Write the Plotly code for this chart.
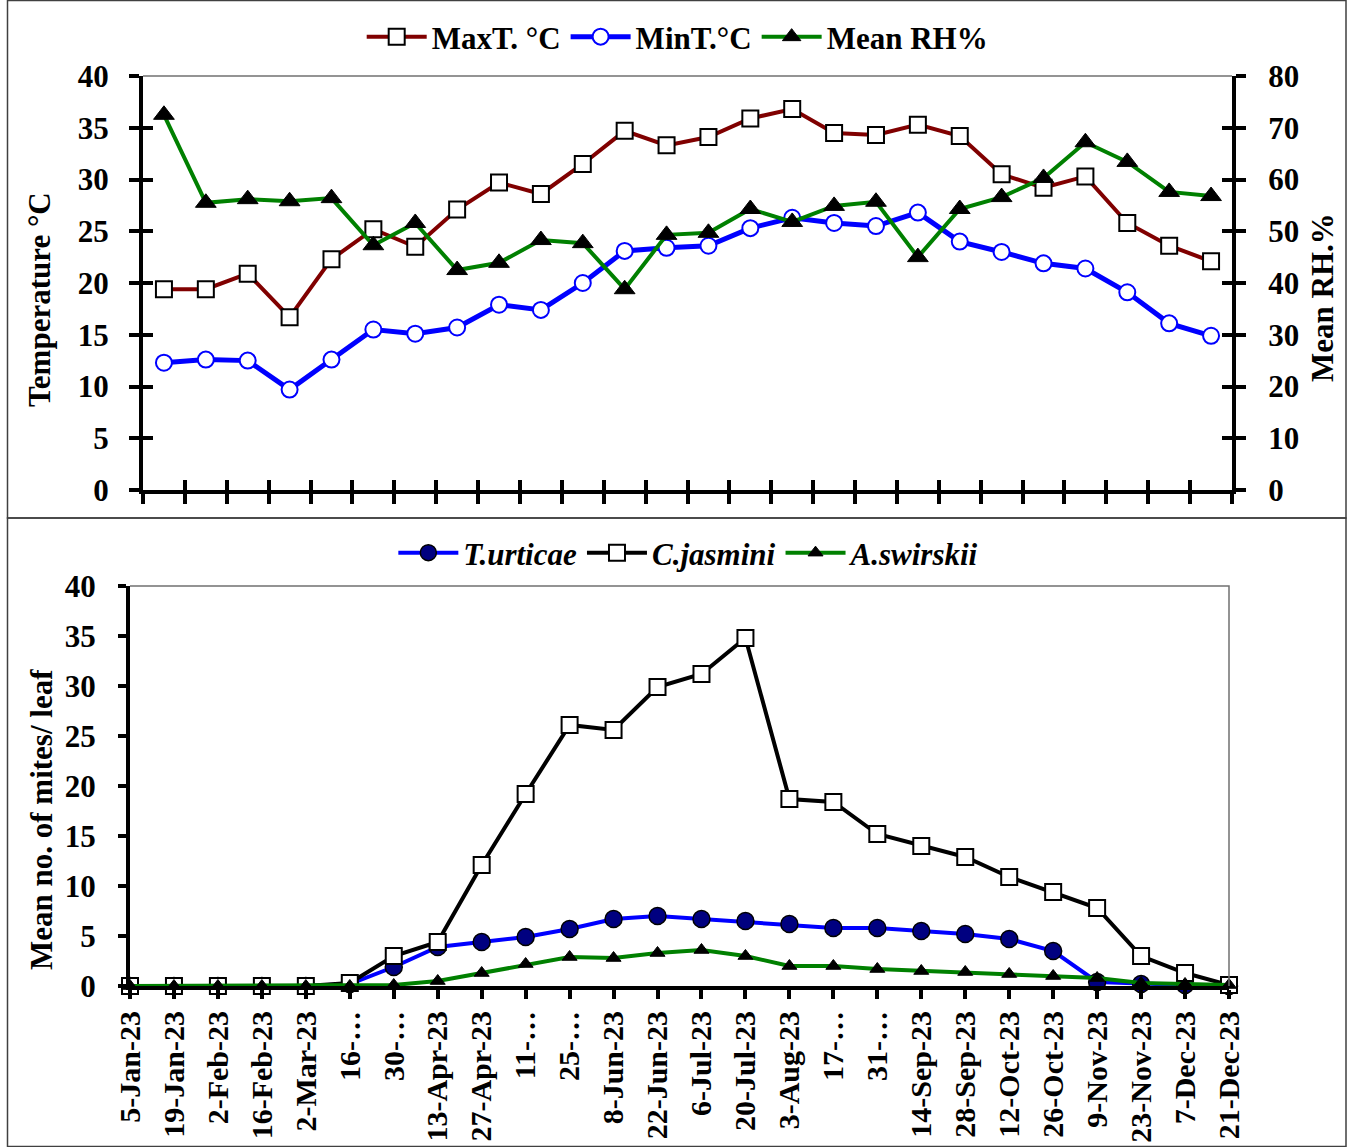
import plotly.graph_objects as go

dates = ["5-Jan-23", "19-Jan-23", "2-Feb-23", "16-Feb-23", "2-Mar-23", "16-…", "30-…",
         "13-Apr-23", "27-Apr-23", "11-…", "25-…", "8-Jun-23", "22-Jun-23", "6-Jul-23",
         "20-Jul-23", "3-Aug-23", "17-…", "31-…", "14-Sep-23", "28-Sep-23", "12-Oct-23",
         "26-Oct-23", "9-Nov-23", "23-Nov-23", "7-Dec-23", "21-Dec-23"]

max_t = [19.4, 19.4, 20.9, 16.7, 22.3, 25.2, 23.5, 27.1, 29.7, 28.6, 31.5, 34.7, 33.3, 34.1,
         35.9, 36.8, 34.5, 34.3, 35.3, 34.2, 30.5, 29.2, 30.3, 25.8, 23.6, 22.1]
min_t = [12.3, 12.6, 12.5, 9.7, 12.6, 15.5, 15.1, 15.7, 17.9, 17.4, 20.0, 23.1, 23.4, 23.6,
         25.3, 26.3, 25.8, 25.5, 26.8, 24.0, 23.0, 21.9, 21.4, 19.1, 16.1, 14.9]
mean_rh = [72.5, 55.5, 56.2, 55.8, 56.4, 47.3, 51.6, 42.5, 43.9, 48.3, 47.7, 38.8, 49.3, 49.7,
           54.3, 51.8, 54.9, 55.7, 45.0, 54.3, 56.6, 60.3, 67.2, 63.4, 57.6, 56.8]

t_urticae = [0, 0, 0, 0, 0, 0.2, 1.9, 3.9, 4.4, 4.9, 5.7, 6.7, 7.0, 6.7, 6.5, 6.2, 5.8, 5.8,
             5.5, 5.2, 4.7, 3.5, 0.4, 0.2, 0.1, 0]
c_jasmini = [0, 0, 0, 0, 0, 0.3, 3.0, 4.4, 12.1, 19.2, 26.1, 25.6, 29.9, 31.2, 34.8, 18.7,
             18.4, 15.2, 14.0, 12.9, 10.9, 9.4, 7.8, 3.0, 1.3, 0.1]
a_swirskii = [0, 0, 0, 0, 0, 0, 0.1, 0.5, 1.3, 2.2, 2.9, 2.8, 3.3, 3.6, 3.0, 2.0, 2.0, 1.7,
              1.5, 1.4, 1.2, 1.0, 0.8, 0.3, 0.2, 0.1]

W, H = 1349, 1147
FONT = "Liberation Serif"


def px(x):
    return x / W


def py(y):
    return 1 - y / H


fig = go.Figure()

# ---- top panel ----
fig.add_trace(go.Scatter(x=dates, y=max_t, name="MaxT. °C", mode="lines+markers",
                         line=dict(color="#800000", width=4),
                         marker=dict(symbol="square", size=16, color="white",
                                     line=dict(color="black", width=2)),
                         xaxis="x", yaxis="y", legend="legend", cliponaxis=False))
fig.add_trace(go.Scatter(x=dates, y=min_t, name="MinT.°C", mode="lines+markers",
                         line=dict(color="#0000FF", width=5),
                         marker=dict(symbol="circle", size=16, color="white",
                                     line=dict(color="#0000FF", width=2)),
                         xaxis="x", yaxis="y", legend="legend", cliponaxis=False))
fig.add_trace(go.Scatter(x=dates, y=mean_rh, name="Mean RH%", mode="lines+markers",
                         line=dict(color="#008000", width=4),
                         marker=dict(symbol="triangle-up", size=18, color="black",
                                     line=dict(color="black", width=1)),
                         xaxis="x", yaxis="y2", legend="legend", cliponaxis=False))
# dummy traces for inside-tick helper axes
fig.add_trace(go.Scatter(x=[], y=[], xaxis="x3", yaxis="y", showlegend=False))
fig.add_trace(go.Scatter(x=[], y=[], xaxis="x", yaxis="y3", showlegend=False))
fig.add_trace(go.Scatter(x=[], y=[], xaxis="x", yaxis="y4", showlegend=False))

# ---- bottom panel ----
fig.add_trace(go.Scatter(x=dates, y=t_urticae, name="T.urticae", mode="lines+markers",
                         line=dict(color="#0000FF", width=4),
                         marker=dict(symbol="circle", size=17, color="#000080",
                                     line=dict(color="black", width=1.5)),
                         xaxis="x2", yaxis="y5", legend="legend2", cliponaxis=False))
fig.add_trace(go.Scatter(x=dates, y=c_jasmini, name="C.jasmini", mode="lines+markers",
                         line=dict(color="black", width=4),
                         marker=dict(symbol="square", size=16, color="white",
                                     line=dict(color="black", width=2)),
                         xaxis="x2", yaxis="y5", legend="legend2", cliponaxis=False))
fig.add_trace(go.Scatter(x=dates, y=a_swirskii, name="A.swirskii", mode="lines+markers",
                         line=dict(color="#008000", width=4),
                         marker=dict(symbol="triangle-up", size=13, color="black",
                                     line=dict(color="black", width=1)),
                         xaxis="x2", yaxis="y5", legend="legend2", cliponaxis=False))

tickfont = dict(family=FONT, size=31, color="black", weight="bold")
xtickfont = dict(family=FONT, size=30, color="black", weight="bold")
top_dom_x = [px(143), px(1232)]
top_dom_y = [py(490), py(76)]
bot_dom_x = [px(130), px(1229)]
bot_dom_y = [py(986), py(586)]

common = dict(showgrid=False, zeroline=False, automargin=False)

fig.update_layout(
    width=W, height=H, autosize=False,
    margin=dict(l=0, r=0, t=0, b=0, pad=0, autoexpand=False),
    paper_bgcolor="white", plot_bgcolor="rgba(0,0,0,0)",
    font=dict(family=FONT, size=30, color="black", weight="bold"),
    xaxis=dict(domain=top_dom_x, anchor="y", type="category", range=[-0.5, 25.5],
               tickson="boundaries", ticks="outside", ticklen=10, tickwidth=3.5,
               tickcolor="black", showticklabels=False, showline=True, linecolor="black",
               linewidth=4, **common),
    xaxis3=dict(overlaying="x", anchor="y", type="linear", range=[-0.5, 25.5],
                tick0=-0.5, dtick=1, ticks="inside", ticklen=10, tickwidth=3.5,
                tickcolor="black", showticklabels=False, showline=False, **common),
    yaxis=dict(domain=top_dom_y, anchor="x", range=[0, 40], dtick=5, ticks="outside",
               ticklen=10, tickwidth=3.5, tickcolor="black", tickfont=tickfont,
               ticklabelstandoff=14, showline=True, linecolor="black", linewidth=4,
               **common),
    yaxis3=dict(overlaying="y", anchor="x", side="left", range=[0, 40], dtick=5,
                ticks="inside", ticklen=10, tickwidth=3.5, tickcolor="black",
                showticklabels=False, showline=False, **common),
    yaxis2=dict(overlaying="y", anchor="x", side="right", range=[0, 80], dtick=10,
                ticks="outside", ticklen=10, tickwidth=3.5, tickcolor="black",
                tickfont=tickfont, ticklabelstandoff=16, showline=True,
                linecolor="black", linewidth=4, **common),
    yaxis4=dict(overlaying="y", anchor="x", side="right", range=[0, 80], dtick=10,
                ticks="inside", ticklen=10, tickwidth=3.5, tickcolor="black",
                showticklabels=False, showline=False, **common),
    xaxis2=dict(domain=bot_dom_x, anchor="y5", type="category", range=[0, 25],
                ticks="outside", ticklen=9, tickwidth=3.5, tickcolor="black",
                tickangle=-90, tickfont=xtickfont, ticklabelstandoff=0, showline=True,
                linecolor="black", linewidth=4, **common),
    yaxis5=dict(domain=bot_dom_y, anchor="x2", range=[0, 40], dtick=5, ticks="outside",
                ticklen=8, tickwidth=3.5, tickcolor="black", tickfont=tickfont,
                ticklabelstandoff=16, showline=True, linecolor="black", linewidth=4,
                **common),
    legend=dict(orientation="h", x=0.502, xanchor="center", y=py(37), yanchor="middle",
                font=dict(family=FONT, size=31, color="black", weight="bold"),
                bgcolor="rgba(0,0,0,0)", itemwidth=60),
    legend2=dict(orientation="h", x=0.511, xanchor="center", y=py(553), yanchor="middle",
                 font=dict(family=FONT, size=31, color="black", weight="bold",
                           style="italic"),
                 bgcolor="rgba(0,0,0,0)", itemwidth=60),
    showlegend=True,
)

title_font = dict(family=FONT, size=31, color="black", weight="bold")
annotations = [
    dict(text="Temperature °C", x=px(40), y=py(300), xref="paper", yref="paper",
         xanchor="center", yanchor="middle", showarrow=False, textangle=-90,
         font=title_font),
    dict(text="Mean RH.%", x=px(1322), y=py(298), xref="paper", yref="paper",
         xanchor="center", yanchor="middle", showarrow=False, textangle=-90,
         font=title_font),
    dict(text="Mean no. of mites/ leaf", x=px(42), y=py(820), xref="paper", yref="paper",
         xanchor="center", yanchor="middle", showarrow=False, textangle=-90,
         font=title_font),
]
fig.update_layout(annotations=annotations)

shapes = [
    # panel frames
    dict(type="rect", xref="paper", yref="paper", x0=px(7.5), x1=px(1346), y0=py(518),
         y1=py(0.5), line=dict(color="#404040", width=1.5)),
    dict(type="rect", xref="paper", yref="paper", x0=px(7.5), x1=px(1346), y0=py(1146.5),
         y1=py(518), line=dict(color="#404040", width=1.5)),
    # plot-area borders
    dict(type="line", xref="paper", yref="paper", x0=px(143), x1=px(1232), y0=py(76),
         y1=py(76), line=dict(color="#707070", width=1.5)),
    dict(type="path", xref="paper", yref="paper",
         path=f"M {px(130)},{py(586)} L {px(1229)},{py(586)} L {px(1229)},{py(986)}",
         line=dict(color="#707070", width=1.5)),
]
fig.update_layout(shapes=shapes)

fig.write_html("out.html", config={"displayModeBar": False},
               post_script="document.body.style.margin='0';")
